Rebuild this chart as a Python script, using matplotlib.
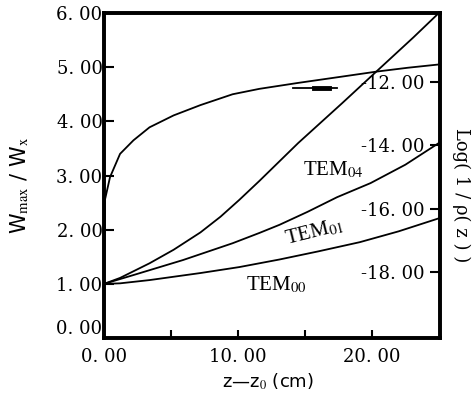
import matplotlib
matplotlib.use("Agg")
import matplotlib.pyplot as plt

plt.rcParams['mathtext.fontset'] = 'stix'

# W_max / W_x curve (left axis units)
wmax_z = [0, 0.07, 0.45, 1.2, 2.2, 3.4, 5.2, 7.2, 9.6, 11.6, 14.5, 17.6, 20.4, 22.7, 25.0]
wmax_v = [1.0, 2.55, 2.97, 3.4, 3.65, 3.89, 4.11, 4.30, 4.5, 4.6, 4.71, 4.82, 4.92, 4.99, 5.05]

# TEM mode curves
tem04_z = [0, 1.2, 3.4, 5.2, 7.2, 8.7, 10.1, 11.6, 14.5, 17.8, 20.6, 23.1, 25.0]
tem04_v = [1.0, 1.11, 1.38, 1.63, 1.95, 2.24, 2.55, 2.9, 3.6, 4.34, 4.98, 5.55, 6.0]

tem01_z = [0, 2.16, 5.9, 9.6, 11.6, 13.1, 15.2, 17.4, 19.9, 22.5, 25.0]
tem01_v = [1.0, 1.16, 1.44, 1.75, 1.94, 2.09, 2.33, 2.6, 2.86, 3.2, 3.6]

tem00_z = [0, 1.2, 3.4, 7.2, 10.1, 13.1, 16.0, 19.1, 22.0, 25.0]
tem00_v = [1.0, 1.01, 1.07, 1.2, 1.31, 1.45, 1.6, 1.77, 1.97, 2.21]

left_ticks = [0, 1, 2, 3, 4, 5, 6]
right_ticks = [-12, -14, -16, -18]
x_ticks = [0, 10, 20]
x_minor = [5, 15]


def fmt(v):
    return f"{v:.2f}".replace('.', '. ')


fig = plt.figure(figsize=(4.77, 3.94), dpi=100)
ax = fig.add_axes([0.218, 0.142, 0.704, 0.825])

for z, v in [(wmax_z, wmax_v), (tem04_z, tem04_v), (tem01_z, tem01_v), (tem00_z, tem00_v)]:
    ax.plot(z, v, color='black', lw=1.3)

ax.set_xlim(0, 25.07)
ax.set_ylim(0, 6)

for sp in ax.spines.values():
    sp.set_linewidth(2.6)

ax.set_xticks(x_ticks)
ax.set_xticks(x_minor, minor=True)
ax.set_xticklabels([fmt(v) for v in x_ticks], family='DejaVu Serif', fontsize=13)
ax.set_yticks(left_ticks)
ax.set_yticklabels([fmt(v) for v in left_ticks], family='DejaVu Serif', fontsize=13)
ax.tick_params(axis='x', which='both', direction='in', length=6, width=1.5, pad=7)
ax.tick_params(axis='y', direction='in', length=7, width=1.5, pad=1)
# the 0.00 label sits a little above its tick in the original
ax.get_yticklabels()[0].set_verticalalignment('bottom')

# right axis
ax2 = ax.twinx()
ax2.set_ylim(-20.08, -9.82)
ax2.set_yticks(right_ticks)
ax2.set_yticklabels([fmt(v) for v in right_ticks], family='DejaVu Serif', fontsize=13)
ax2.tick_params(axis='y', direction='in', length=7, width=1.5, pad=-11)
for lbl in ax2.get_yticklabels():
    lbl.set_horizontalalignment('right')
for sp in ax2.spines.values():
    sp.set_linewidth(2.6)

# arrow marker pointing to the right axis
ax.plot([14.1, 17.4], [4.61, 4.61], color='black', lw=1.3)
ax.plot([15.7, 16.8], [4.61, 4.61], color='black', lw=3.5)

# mode labels
ax.text(17.1, 3.1, 'TEM$_{04}$', family='Liberation Serif', fontsize=15,
        ha='center', va='center')
ax.text(15.7, 1.96, 'TEM$_{01}$', family='Liberation Serif', fontsize=15,
        ha='center', va='center', rotation=14)
ax.text(12.9, 0.98, 'TEM$_{00}$', family='Liberation Serif', fontsize=15,
        ha='center', va='center')

ax.text(-0.25, 0.47, r'W$_{\rm max}$ / W$_{\rm x}$', transform=ax.transAxes,
        rotation=90, ha='center', va='center', family='DejaVu Sans', fontsize=15)
ax.text(1.065, 0.44, 'Log( 1 / ρ( z ) )', transform=ax.transAxes,
        rotation=270, ha='center', va='center', family='DejaVu Serif', fontsize=13)
ax.text(0.488, -0.135, 'z—z$_0$ (cm)', transform=ax.transAxes,
        ha='center', va='center', family='DejaVu Sans', fontsize=13)

fig.savefig('out.png', dpi=100)
